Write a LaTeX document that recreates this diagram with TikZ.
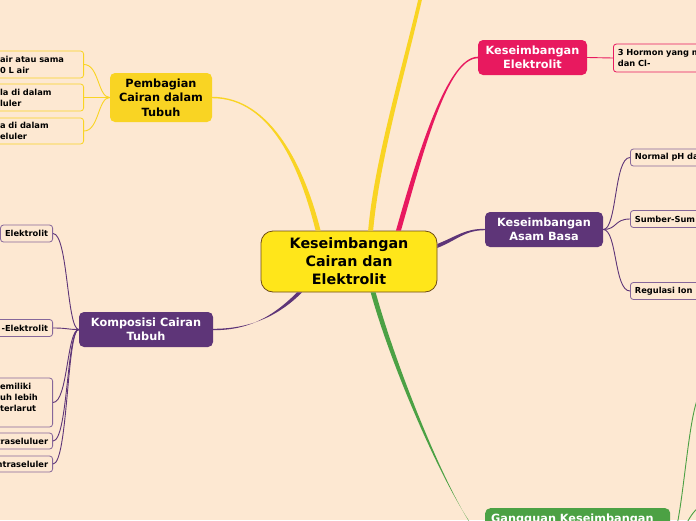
\documentclass[tikz,border=0pt]{standalone}
\usepackage{fontspec}
\setmainfont{DejaVu Sans}
\usepackage{xcolor}
\usepackage{tikz}

\definecolor{bgpeach}{RGB}{253,232,210}
\definecolor{mainyellow}{RGB}{255,230,26}
\definecolor{mainbrown}{RGB}{110,75,20}
\definecolor{gold}{RGB}{249,212,35}
\definecolor{rose}{RGB}{232,25,95}
\definecolor{grape}{RGB}{94,53,120}
\definecolor{leaf}{RGB}{76,161,68}

\tikzset{
  topic/.style={rounded corners=5pt, align=center, inner sep=0pt,
    font=\fontsize{11.3}{14.5}\selectfont\bfseries},
  leafbox/.style={draw=#1, fill=bgpeach, line width=0.8pt, rounded corners=3pt,
    inner xsep=4.5pt, inner ysep=0pt, font=\fontsize{8.3}{11}\selectfont\bfseries},
  twig/.style={draw=#1, line width=0.9pt},
}

\begin{document}
\begin{tikzpicture}[x=1pt,y=-1pt]
    \useasboundingbox (0,0) rectangle (696,520);
    \fill[bgpeach] (0,0) rectangle (696,520);
    \clip (0,0) rectangle (696,520);

    % central topic
    \node[topic, draw=mainbrown, fill=mainyellow, line width=0.8pt, rounded corners=12pt,
      minimum width=176pt, minimum height=61pt,
      font=\fontsize{14.3}{18}\selectfont\bfseries] (cen) at (349,261.5) {Keseimbangan\\Cairan dan\\Elektrolit};

    % main topics
    \node[topic, fill=gold, minimum width=102pt, minimum height=49pt] (pemb) at (161,97.5) {Pembagian\\Cairan dalam\\Tubuh};
    \node[topic, fill=rose, text=white, minimum width=109pt, minimum height=35pt] (elek) at (532.5,57.5) {Keseimbangan\\Elektrolit};
    \node[topic, fill=grape, text=white, minimum width=118pt, minimum height=35pt] (asam) at (544,229.5) {Keseimbangan\\Asam Basa};
    \node[topic, fill=grape, text=white, minimum width=134pt, minimum height=35pt] (komp) at (146,329.5) {Komposisi Cairan\\Tubuh};
    \node[topic, fill=leaf, text=white, anchor=north west, text width=173pt, align=left,
      inner xsep=6pt, inner ysep=5.5pt, text height=9pt, text depth=45pt] (gang) at (485,508) {Gangguan Keseimbangan};

    % subtopics
    \node[leafbox=gold, anchor=east, text width=79pt, align=left, minimum height=27pt] (pa) at (84,64.5) {air atau sama\\0 L air};
    \node[leafbox=gold, anchor=east, text width=79pt, align=left, minimum height=27pt] (pb) at (84,97.5) {la di dalam\\luler};
    \node[leafbox=gold, anchor=east, text width=79pt, align=left, minimum height=26pt] (pc) at (84,131) {a di dalam\\eluler};

    \node[leafbox=rose, anchor=west, text width=90pt, align=left, minimum height=28pt] (hm) at (613,58) {3 Hormon yang m\\dan Cl-};

    \node[leafbox=grape!75, anchor=west, text width=90pt, align=left, minimum height=17pt] (ph) at (630,157.5) {Normal pH da};
    \node[leafbox=grape!75, anchor=west, text width=90pt, align=left, minimum height=17pt] (sb) at (630,219) {Sumber-Sum};
    \node[leafbox=grape!75, anchor=west, text width=90pt, align=left, minimum height=17pt] (ri) at (630,291) {Regulasi Ion};

    \node[leafbox=grape!75, anchor=east, minimum height=17pt] (ka) at (53,233.5) {Elektrolit};
    \node[leafbox=grape!75, anchor=east, minimum height=17pt] (kb) at (53,328) {-Elektrolit};
    \node[leafbox=grape!75, anchor=east, text width=48pt, align=left, minimum height=49pt] (kc) at (53,402.5) {emiliki\\uh lebih\\terlarut\\\mbox{}};
    \node[leafbox=grape!75, anchor=east, minimum height=16pt] (kd) at (53,441) {traseluluer};
    \node[leafbox=grape!75, anchor=east, minimum height=16pt] (ke) at (53,464) {ntraseluler};

    \coordinate (ytop) at (432,-60);
    \coordinate (g1) at (702,394);
    \coordinate (g2) at (702,507);

    % main branches, tapered
    \fill[gold] ([xshift=-2.5pt]cen.135) .. controls +(-15,-60) and +(60,0) .. ([yshift=-0.7pt]pemb.east)
      -- ([yshift=0.7pt]pemb.east) .. controls +(60,0) and +(-15,-60) .. ([xshift=2.5pt]cen.135) -- cycle;
    \fill[gold] ([xshift=-2.5pt]cen.55) .. controls +(8,-90) and +(-12,80) .. ([xshift=-1.8pt]ytop)
      -- ([xshift=1.8pt]ytop) .. controls +(-12,80) and +(8,-90) .. ([xshift=2.5pt]cen.55) -- cycle;
    \fill[rose] ([xshift=-2.5pt]cen.32) .. controls +(23,-81) and +(-30,0) .. ([yshift=0.8pt]elek.west)
      -- ([yshift=-0.8pt]elek.west) .. controls +(-30,0) and +(23,-81) .. ([xshift=2.5pt]cen.32) -- cycle;
    \fill[grape] ([yshift=2pt]cen.10) .. controls +(20,-8) and +(-20,0) .. ([yshift=0.7pt]asam.west)
      -- ([yshift=-0.7pt]asam.west) .. controls +(-20,0) and +(20,-8) .. ([yshift=-2pt]cen.10) -- cycle;
    \fill[grape] ([xshift=2.5pt]cen.212) .. controls +(-25,25) and +(35,0) .. ([yshift=0.7pt]komp.east)
      -- ([yshift=-0.7pt]komp.east) .. controls +(35,0) and +(-25,25) .. ([xshift=-2.5pt]cen.212) -- cycle;
    \fill[leaf] ([xshift=-2.5pt]cen.308) .. controls +(25,90) and +(-25,-18) .. ([yshift=0.7pt]gang.west)
      -- ([yshift=-0.7pt]gang.west) .. controls +(-25,-18) and +(25,90) .. ([xshift=2.5pt]cen.308) -- cycle;

    % twigs
    \draw[twig=gold] (pemb.west) .. controls +(-12,0) and +(15,0) .. (pa.east);
    \draw[twig=gold] (pemb.west) .. controls +(-12,0) and +(15,0) .. (pb.east);
    \draw[twig=gold] (pemb.west) .. controls +(-12,0) and +(15,0) .. (pc.east);
    \draw[twig=rose] (elek.east) -- (hm.west);
    \draw[twig=grape] (asam.east) .. controls +(14,0) and +(-16,0) .. (ph.west);
    \draw[twig=grape] (asam.east) .. controls +(14,0) and +(-16,0) .. (sb.west);
    \draw[twig=grape] (asam.east) .. controls +(14,0) and +(-16,0) .. (ri.west);
    \draw[twig=grape] (komp.west) .. controls +(-12,0) and +(15,0) .. (ka.east);
    \draw[twig=grape] (komp.west) .. controls +(-12,0) and +(15,0) .. (kb.east);
    \draw[twig=grape] (komp.west) .. controls +(-12,0) and +(15,0) .. (kc.east);
    \draw[twig=grape] (komp.west) .. controls +(-12,0) and +(15,0) .. (kd.east);
    \draw[twig=grape] (komp.west) .. controls +(-12,0) and +(15,0) .. (ke.east);
    \draw[twig=leaf] (gang.east) .. controls +(12,0) and +(-14,0) .. (g1);
    \draw[twig=leaf] (gang.east) .. controls +(12,0) and +(-12,0) .. (g2);
\end{tikzpicture}
\end{document}
